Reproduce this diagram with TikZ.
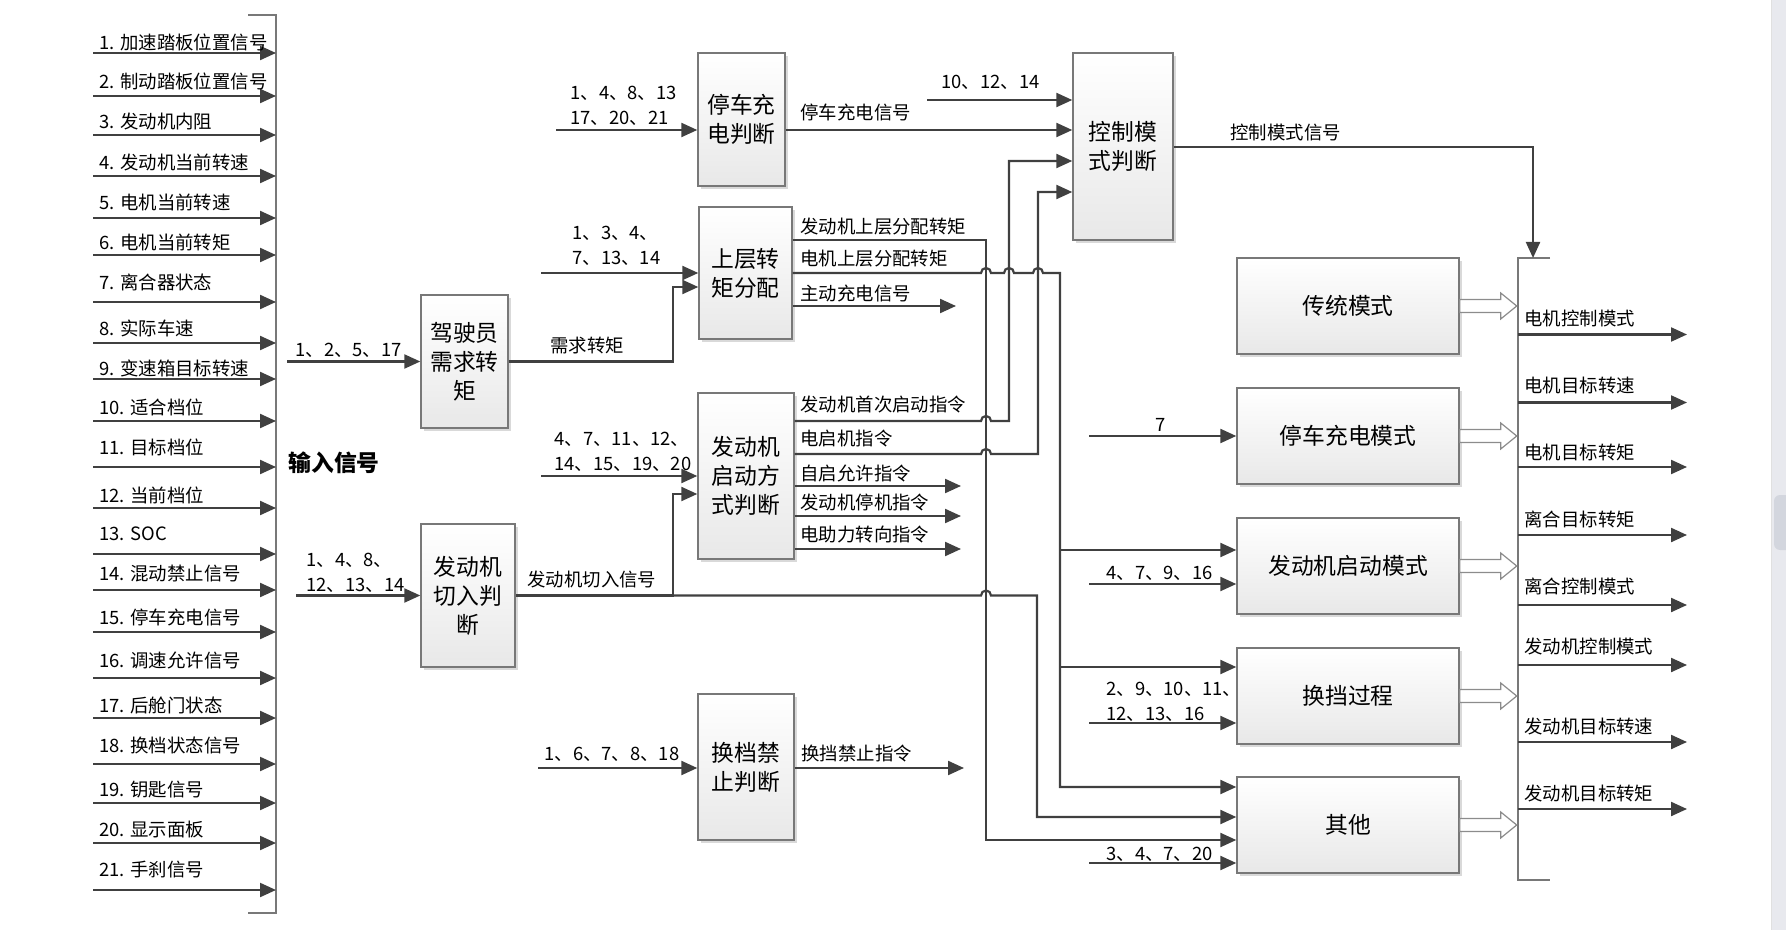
\documentclass[tikz,border=0pt]{standalone}
\usepackage{fontspec}
\setmainfont{Noto Sans CJK SC}
\usetikzlibrary{arrows.meta,shadows,positioning}

\definecolor{linegray}{RGB}{64,64,64}
\definecolor{boxgray}{RGB}{120,120,120}
\definecolor{hollowgray}{RGB}{140,140,140}
\definecolor{scrollbg}{RGB}{232,233,238}
\definecolor{scrollthumb}{RGB}{211,214,222}

\newcommand{\lblsize}{\fontsize{9.2}{12.5}\selectfont}
\newcommand{\boxsize}{\fontsize{11.4}{14.5}\selectfont}

\begin{document}
\begin{tikzpicture}
    [
      x=0.5pt, y=-0.5pt,
      judge/.style={draw=boxgray, line width=0.7pt, top color=white, bottom color=black!9,
        drop shadow={shadow xshift=1.5pt, shadow yshift=-1.5pt, fill=black!15, opacity=1},
        inner sep=0pt, align=center, font=\boxsize},
      mode/.style={judge, minimum width=111pt, minimum height=48pt},
      post/.style={-{Triangle[length=8pt,width=7pt]}, line width=1.1pt, draw=linegray},
      lbl/.style={anchor=west, inner sep=0pt, align=left, font=\lblsize},
      bar/.style={draw=boxgray, line width=0.8pt},
      hollow/.style={draw=hollowgray, fill=white, line width=0.6pt},
    ]
    \useasboundingbox (0,0) rectangle (1786,930);

    % window scroll bar
    \fill [scrollbg] (1771,0) rectangle (1786,930);
    \draw [black!12] (1771,0) -- (1771,930);
    \fill [scrollthumb, rounded corners=3pt] (1774,495) rectangle (1792,550);

    % input signals
    \coordinate (inbar-top) at (276,15);
    \coordinate (inbar-bot) at (276,913);
    \draw [bar] (248,15) -- (inbar-top) -- (inbar-bot) -- (248,913);
    \foreach \k/\ay/\ly/\txt in {1/53/42/加速踏板位置信号, 2/96/81/制动踏板位置信号,
        3/135/122/发动机内阻, 4/176/162/发动机当前转速, 5/218/202/电机当前转速,
        6/255/242/电机当前转矩, 7/302/282/离合器状态, 8/343/328/实际车速,
        9/379/368/变速箱目标转速, 10/421/407/适合档位, 11/467/447/目标档位,
        12/508/495/当前档位, 13/554/534/SOC, 14/590/574/混动禁止信号,
        15/632/617/停车充电信号, 16/678/660/调速允许信号, 17/718/705/后舱门状态,
        18/764/745/换档状态信号, 19/803/790/钥匙信号, 20/843/830/显示面板,
        21/890/870/手刹信号} {
      \coordinate (in\k-s) at (93,\ay);
      \draw [post] (in\k-s) -- (inbar-top |- 0,\ay);
      \node (in\k-lbl) [lbl] at (99,\ly) {\k. \txt};
    }
    \node (inputs) [anchor=west, inner sep=0pt, font=\boxsize\bfseries] at (288,463) {输入信号};

    % judgement blocks
    \node (drv) [judge, minimum width=43.5pt, minimum height=66.5pt] at (464.5,361.5) {驾驶员\\需求转\\矩};
    \node (engin) [judge, minimum width=47pt, minimum height=71.5pt] at (468,595.5) {发动机\\切入判\\断};
    \node (park) [judge, minimum width=43.5pt, minimum height=66.5pt] at (741.5,119.5) {停车充\\电判断};
    \node (torque) [judge, minimum width=46.5pt, minimum height=66pt] at (745.5,273) {上层转\\矩分配};
    \node (start) [judge, minimum width=48pt, minimum height=83pt] at (746,476) {发动机\\启动方\\式判断};
    \node (shift) [judge, minimum width=48pt, minimum height=73pt] at (746,767) {换档禁\\止判断};
    \node (ctrl) [judge, minimum width=50pt, minimum height=93.5pt] at (1123,146.5) {控制模\\式判断};

    % mode blocks
    \node (conv) [mode] at (1348,306) {传统模式};
    \node (pmode) [mode] at (1348,436) {停车充电模式};
    \node (estart) [mode] at (1348,566) {发动机启动模式};
    \node (gear) [mode] at (1348,696) {换挡过程};
    \node (other) [mode] at (1348,825) {其他};

    % driver demand
    \coordinate (drv-in) at (287,361.5);
    \draw [post] (drv-in) -- (drv.west);
    \node [lbl] at (295,350) {1、2、5、17};
    \draw [post] (drv.east) -- (673,361.5) |- (torque.west |- 0,287);
    \node [lbl] at (550,346) {需求转矩};

    % engine cut-in
    \coordinate (engin-in) at (296,595.5);
    \draw [post] (engin-in) -- (engin.west);
    \node [lbl] at (306,573) {1、4、8、\\12、13、14};
    \coordinate (cut-split) at (673,595.5);
    \draw [post] (engin.east) -- (cut-split) |- (start.west |- 0,494);
    \draw [post] (cut-split) -- (981,595.5) arc[start angle=180, end angle=0, radius=2.5pt]
      -- (1037,595.5) |- (other.west |- 0,817);
    \node [lbl] at (527,579) {发动机切入信号};

    % parking charge
    \coordinate (park-in) at (556,130);
    \draw [post] (park-in) -- (park.west |- 0,130);
    \node [lbl] at (570,105.5) {1、4、8、13\\17、20、21};
    \draw [post] (park.east |- 0,130) -- (ctrl.west |- 0,130);
    \node [lbl] at (800,112) {停车充电信号};
    \coordinate (ctrl-in) at (927,100);
    \draw [post] (ctrl-in) -- (ctrl.west |- 0,100);
    \node [lbl] at (941,82) {10、12、14};

    % upper torque split
    \coordinate (torque-in) at (541,273);
    \draw [post] (torque-in) -- (torque.west);
    \node [lbl] at (572,246) {1、3、4、\\7、13、14};
    \draw [post] (torque.east |- 0,240) -- (986,240) |- (other.west |- 0,840);
    \node [lbl] at (800,227) {发动机上层分配转矩};
    \draw [post] (torque.east) -- (981,273) arc[start angle=180, end angle=0, radius=2.5pt]
      -- (1004,273) arc[start angle=180, end angle=0, radius=2.5pt]
      -- (1033,273) arc[start angle=180, end angle=0, radius=2.5pt]
      -- (1060,273) |- (other.west |- 0,787);
    \coordinate (mot-j1) at (1060,550);
    \coordinate (mot-j2) at (1060,667);
    \draw [post] (mot-j1) -- (estart.west |- 0,550);
    \draw [post] (mot-j2) -- (gear.west |- 0,667);
    \node [lbl] at (800,259) {电机上层分配转矩};
    \coordinate (charge-out) at (956,306);
    \draw [post] (torque.east |- 0,306) -- (charge-out);
    \node [lbl] at (800,293) {主动充电信号};

    % engine start
    \coordinate (start-in) at (541,476);
    \draw [post] (start-in) -- (start.west);
    \node [lbl] at (554,451.5) {4、7、11、12、\\14、15、19、20};
    \draw [post] (start.east |- 0,421) -- (981,421) arc[start angle=180, end angle=0, radius=2.5pt]
      -- (1009,421) |- (ctrl.west |- 0,161);
    \node [lbl] at (800,405) {发动机首次启动指令};
    \draw [post] (start.east |- 0,454) -- (981,454) arc[start angle=180, end angle=0, radius=2.5pt]
      -- (1038,454) |- (ctrl.west |- 0,192);
    \node [lbl] at (800,439) {电启机指令};
    \coordinate (self-out) at (961,486);
    \coordinate (stop-out) at (961,516);
    \coordinate (eps-out) at (961,549);
    \draw [post] (start.east |- 0,486) -- (self-out);
    \draw [post] (start.east |- 0,516) -- (stop-out);
    \draw [post] (start.east |- 0,549) -- (eps-out);
    \node [lbl] at (800,473) {自启允许指令};
    \node [lbl] at (800,503) {发动机停机指令};
    \node [lbl] at (800,535) {电助力转向指令};

    % shift inhibit
    \coordinate (shift-in) at (538,768);
    \draw [post] (shift-in) -- (shift.west |- 0,768);
    \node [lbl] at (544,754) {1、6、7、8、18};
    \coordinate (shift-out) at (964,768);
    \draw [post] (shift.east |- 0,768) -- (shift-out);
    \node [lbl] at (801,754) {换挡禁止指令};

    % inputs of the modes
    \coordinate (pmode-in) at (1089,436);
    \draw [post] (pmode-in) -- (pmode.west);
    \node [lbl] at (1155,425) {7};
    \coordinate (estart-in) at (1089,584);
    \draw [post] (estart-in) -- (estart.west |- 0,584);
    \node [lbl] at (1106,573) {4、7、9、16};
    \coordinate (gear-in) at (1089,723);
    \draw [post] (gear-in) -- (gear.west |- 0,723);
    \node [lbl] at (1106,701.5) {2、9、10、11、\\12、13、16};
    \coordinate (other-in) at (1089,863);
    \draw [post] (other-in) -- (other.west |- 0,863);
    \node [lbl] at (1106,854) {3、4、7、20};

    % control mode signal and outputs
    \coordinate (outbar-top) at (1518,258);
    \coordinate (outbar-bot) at (1518,880);
    \coordinate (outbar-in) at (1533,258);
    \draw [bar] (1550,258) -- (outbar-top) -- (outbar-bot) -- (1550,880);
    \draw [post] (ctrl.east |- 0,147) -| (outbar-in);
    \node [lbl] at (1230,133) {控制模式信号};
    \foreach \m in {conv,pmode,estart,gear,other}
      \draw [hollow] (\m.east) ++(0,-6.5) -- ++(41,0) -- ++(0,-6.5) -- ++(16,13)
        -- ++(-16,13) -- ++(0,-6.5) -- ++(-41,0) -- cycle;
    \foreach \k/\ay/\ly/\txt in {1/334.5/319/电机控制模式, 2/402.5/386/电机目标转速,
        3/467/453/电机目标转矩, 4/535/519/离合目标转矩, 5/605/586/离合控制模式,
        6/665/646/发动机控制模式, 7/742/726/发动机目标转速, 8/809/793/发动机目标转矩} {
      \coordinate (out\k-e) at (1687,\ay);
      \draw [post] (outbar-top |- 0,\ay) -- (out\k-e);
      \node (out\k-lbl) [lbl] at (1524,\ly) {\txt};
    }

  \end{tikzpicture}
\end{document}
